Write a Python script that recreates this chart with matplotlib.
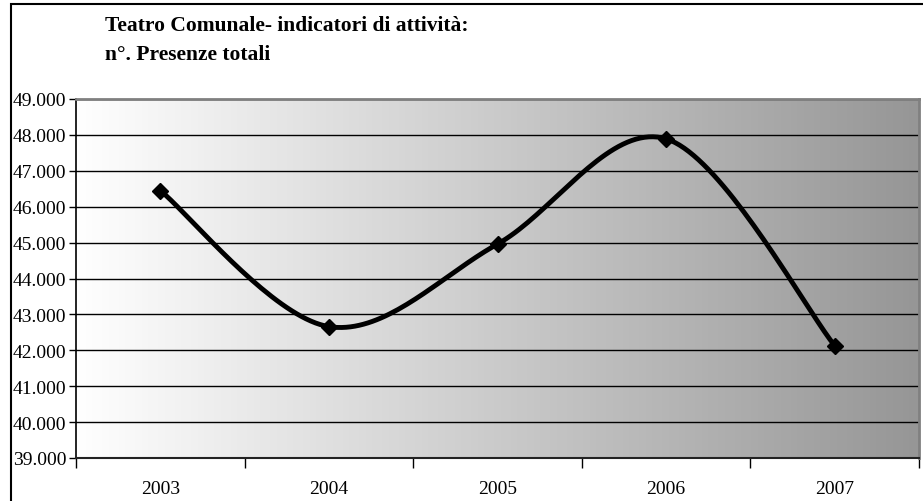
import numpy as np
import matplotlib.pyplot as plt
from matplotlib.patches import Rectangle
from matplotlib.colors import LinearSegmentedColormap

years = ["2003", "2004", "2005", "2006", "2007"]
presenze = [46450, 42660, 44960, 47890, 42130]
y_ticks = list(range(39000, 50000, 1000))

plt.rcParams['font.family'] = ['Liberation Serif', 'DejaVu Serif']

W, H = 923, 502
fig = plt.figure(figsize=(W / 100, H / 100), dpi=100)
ax = fig.add_axes([76 / W, (H - 459) / H, 843 / W, 359 / H])

# gradient background, white -> grey
grad = np.linspace(0, 1, 256).reshape(1, -1)
cmap = LinearSegmentedColormap.from_list("g", ["#ffffff", "#969696"])
ax.imshow(grad, cmap=cmap, aspect="auto", extent=[-0.5, 4.5, 39000, 49000], zorder=0)

# smooth line (Catmull-Rom style bezier like Excel)
x = np.arange(len(presenze), dtype=float)
y = np.array(presenze, dtype=float)
xs, ys = [], []
t = np.linspace(0, 1, 40)
for i in range(len(x) - 1):
    p0 = np.array([x[max(i - 1, 0)], y[max(i - 1, 0)]])
    p1 = np.array([x[i], y[i]])
    p2 = np.array([x[i + 1], y[i + 1]])
    p3 = np.array([x[min(i + 2, len(x) - 1)], y[min(i + 2, len(x) - 1)]])
    c1 = p1 + (p2 - p0) / 6
    c2 = p2 - (p3 - p1) / 6
    b = ((1 - t) ** 3)[:, None] * p1 + (3 * (1 - t) ** 2 * t)[:, None] * c1 \
        + (3 * (1 - t) * t ** 2)[:, None] * c2 + (t ** 3)[:, None] * p2
    xs.extend(b[:, 0]); ys.extend(b[:, 1])
ax.plot(xs, ys, color="black", lw=3.5, zorder=3, solid_capstyle="round")
ax.plot(x, y, linestyle="none", marker="D", ms=8, color="black", zorder=4)

ax.set_xlim(-0.5, 4.5)
ax.set_ylim(39000, 49000)
ax.set_yticks(y_ticks)
ax.set_yticklabels([f"{v:,}".replace(",", ".") for v in y_ticks], fontsize=14)
ax.yaxis.grid(True, color="black", lw=1)
for gl in ax.get_ygridlines():
    gl.set_zorder(1)
ax.tick_params(axis="y", direction="out", length=5, width=1, pad=2, colors="black")

ax.set_xticks(x)
ax.set_xticklabels(years, fontsize=14)
ax.set_xticks(np.arange(-0.5, 5, 1), minor=True)
ax.tick_params(axis="x", which="major", length=0, pad=16)
ax.tick_params(axis="x", which="minor", direction="out", length=7, width=1)

ax.spines["left"].set_color("black")
ax.spines["bottom"].set_color("#222222")
ax.spines["left"].set_linewidth(1.2)
ax.spines["bottom"].set_linewidth(1.5)
ax.spines["top"].set_color("#808080")
ax.spines["right"].set_color("#808080")
ax.spines["top"].set_linewidth(2)
ax.spines["right"].set_linewidth(2)

fig.text(105 / W, 1 - 26 / H, "Teatro Comunale- indicatori di attività:",
         fontsize=15.5, fontweight="bold", va="center", ha="left")
fig.text(105 / W, 1 - 55 / H, "n°. Presenze totali",
         fontsize=15.5, fontweight="bold", va="center", ha="left")

# chart frame (runs off the right and bottom edges)
fig.patches.append(Rectangle((11 / W, -10 / H), 930 / W, 507 / H, transform=fig.transFigure,
                             fill=False, edgecolor="black", lw=1.5))

fig.savefig("out.png", dpi=100)
